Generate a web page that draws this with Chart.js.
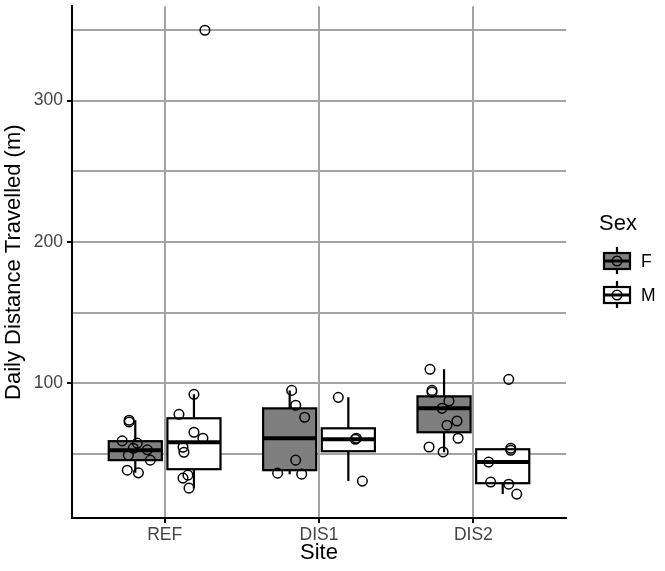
<!DOCTYPE html>
<html>
<head>
<meta charset="utf-8">
<script src="https://cdn.jsdelivr.net/npm/chart.js@4.4.1/dist/chart.umd.min.js"></script>
<style>
  html, body { margin: 0; padding: 0; background: #fff; }
  #wrap { width: 665px; height: 571px; }
</style>
</head>
<body>
<div id="wrap"><canvas id="boxChart"></canvas></div>
<script>
// Sites and axis
const sites = ['REF', 'DIS1', 'DIS2'];
const yLabelTicks = [100, 200, 300];
const yGridTicks = [50, 100, 150, 200, 250, 300, 350];

// Box stats (F)
const fLow = [36.8, 35.9, 51.4];
const fQ1 = [45.8, 38.7, 65.5];
const fMed = [52.8, 61.3, 82.4];
const fQ3 = [59.2, 82.4, 90.9];
const fHigh = [74, 95.1, 110];

// Box stats (M)
const mLow = [26, 31, 21.8];
const mQ1 = [39.4, 52.1, 29.5];
const mMed = [58.5, 60.6, 44.4];
const mQ3 = [75.4, 68.3, 53.5];
const mHigh = [92.3, 90.2, 54.2];

// Individual observations, per site
const fPoints = [
  [74, 72.8, 59.4, 57.8, 54.2, 53.1, 49.3, 45.8, 38.7, 36.8],
  [95.1, 84.6, 76.1, 45.8, 36.6, 35.9],
  [110, 95.1, 93.9, 87.6, 82.4, 73.5, 70.5, 61.3, 55.1, 51.6]
];
const mPoints = [
  [349.7, 92.3, 78.2, 65.5, 61.3, 54.9, 51.4, 35.2, 33.1, 26],
  [90.2, 61.3, 60.6, 31],
  [102.9, 54.2, 52.8, 44.4, 30.3, 28.8, 21.8]
];
// horizontal jitter (category units)
const fJitter = [
  [-0.04, -0.04, -0.085, 0.013, -0.013, 0.078, -0.045, 0.097, -0.052, 0.02],
  [0.013, 0.039, 0.097, 0.039, -0.078, 0.078],
  [-0.091, -0.078, -0.078, 0.032, -0.013, 0.084, 0.019, 0.091, -0.097, -0.006]
];
const mJitter = [
  [0.071, 0, -0.097, 0, 0.058, -0.071, -0.065, -0.039, -0.071, -0.032],
  [-0.065, 0.052, 0.045, 0.091],
  [0.039, 0.052, 0.052, -0.091, -0.078, 0.039, 0.091]
];

const DODGE = 0.19;
const HALF = 0.172;
const FONT = "'Liberation Sans', Arial, sans-serif";

const groups = [
  { name: 'F', fill: '#7f7f7f', offset: -DODGE, low: fLow, q1: fQ1, med: fMed, q3: fQ3, high: fHigh },
  { name: 'M', fill: '#ffffff', offset: DODGE, low: mLow, q1: mQ1, med: mMed, q3: mQ3, high: mHigh }
];

function buildPoints(pts, jit, offset) {
  const out = [];
  pts.forEach((arr, s) => {
    arr.forEach((v, i) => out.push({ x: s + 1 + offset + jit[s][i], y: v }));
  });
  return out;
}

// draws the boxes under the points
const boxPlugin = {
  id: 'boxes',
  beforeDatasetsDraw(chart) {
    const ctx = chart.ctx;
    const xs = chart.scales.x, ys = chart.scales.y;
    ctx.save();
    ctx.strokeStyle = '#000';
    groups.forEach(g => {
      sites.forEach((s, i) => {
        const cx = xs.getPixelForValue(i + 1 + g.offset);
        const x0 = xs.getPixelForValue(i + 1 + g.offset - HALF);
        const x1 = xs.getPixelForValue(i + 1 + g.offset + HALF);
        const yLo = ys.getPixelForValue(g.low[i]);
        const yQ1 = ys.getPixelForValue(g.q1[i]);
        const yMed = ys.getPixelForValue(g.med[i]);
        const yQ3 = ys.getPixelForValue(g.q3[i]);
        const yHi = ys.getPixelForValue(g.high[i]);
        // whiskers
        ctx.lineWidth = 2.2;
        ctx.beginPath();
        ctx.moveTo(cx, yQ1); ctx.lineTo(cx, yLo);
        ctx.moveTo(cx, yQ3); ctx.lineTo(cx, yHi);
        ctx.stroke();
        // box
        ctx.fillStyle = g.fill;
        ctx.fillRect(x0, yQ3, x1 - x0, yQ1 - yQ3);
        ctx.strokeRect(x0, yQ3, x1 - x0, yQ1 - yQ3);
        // median
        ctx.lineWidth = 4;
        ctx.beginPath();
        ctx.moveTo(x0, yMed); ctx.lineTo(x1, yMed);
        ctx.stroke();
      });
    });
    ctx.restore();
  }
};

// ggplot style legend at right
const legendPlugin = {
  id: 'sexLegend',
  afterDraw(chart) {
    const ctx = chart.ctx;
    ctx.save();
    ctx.fillStyle = '#000';
    ctx.font = '22px ' + FONT;
    ctx.textBaseline = 'middle';
    ctx.textAlign = 'left';
    ctx.fillText('Sex', 599, 224);
    groups.forEach((g, k) => {
      const cy = 261 + k * 34;
      const x0 = 604, w = 26, h = 16;
      const cx = x0 + w / 2;
      ctx.strokeStyle = '#000';
      ctx.lineWidth = 2.2;
      ctx.beginPath();
      ctx.moveTo(cx, cy - 14); ctx.lineTo(cx, cy + 13);
      ctx.stroke();
      ctx.fillStyle = g.fill;
      ctx.fillRect(x0, cy - h / 2, w, h);
      ctx.strokeRect(x0, cy - h / 2, w, h);
      ctx.lineWidth = 3;
      ctx.beginPath();
      ctx.moveTo(x0, cy); ctx.lineTo(x0 + w, cy);
      ctx.stroke();
      ctx.lineWidth = 1.5;
      ctx.beginPath();
      ctx.arc(cx, cy, 4.8, 0, Math.PI * 2);
      ctx.stroke();
      ctx.fillStyle = '#000';
      ctx.font = '17.5px ' + FONT;
      ctx.fillText(g.name, 641, cy + 1);
    });
    ctx.restore();
  }
};

const pointStyle = {
  showLine: false,
  pointStyle: 'circle',
  pointRadius: 4.8,
  pointBorderWidth: 1.5,
  pointBackgroundColor: 'rgba(0,0,0,0)',
  pointBorderColor: '#000'
};

new Chart(document.getElementById('boxChart'), {
  type: 'scatter',
  data: {
    datasets: [
      { label: 'F', data: buildPoints(fPoints, fJitter, -DODGE), ...pointStyle },
      { label: 'M', data: buildPoints(mPoints, mJitter, DODGE), ...pointStyle }
    ]
  },
  options: {
    responsive: true,
    maintainAspectRatio: false,
    animation: false,
    layout: { padding: { top: 5, right: 99, left: 0, bottom: 0 } },
    plugins: {
      legend: { display: false },
      tooltip: { enabled: false }
    },
    scales: {
      x: {
        type: 'linear',
        min: 0.4,
        max: 3.6,
        afterBuildTicks: axis => { axis.ticks = [1, 2, 3].map(v => ({ value: v })); },
        afterFit: axis => {
          axis.height = 53;
          axis.paddingLeft = 0;
          axis.paddingRight = 0;
        },
        ticks: {
          callback: v => sites[v - 1],
          color: '#444',
          font: { family: FONT, size: 17.5 },
          padding: 2,
          maxRotation: 0
        },
        grid: {
          color: '#a3a3a3',
          lineWidth: 2,
          tickColor: '#000',
          tickLength: 5,
          tickWidth: 2
        },
        border: { color: '#000', width: 2 },
        title: {
          display: true,
          text: 'Site',
          color: '#000',
          font: { family: FONT, size: 22 },
          padding: { top: 0, bottom: 5 }
        }
      },
      y: {
        min: 4.9,
        max: 366.6,
        afterBuildTicks: axis => { axis.ticks = yGridTicks.map(v => ({ value: v })); },
        afterFit: axis => {
          axis.width = 72;
          axis.paddingTop = 0;
          axis.paddingBottom = 0;
        },
        ticks: {
          callback: v => (yLabelTicks.includes(v) ? String(v) : ''),
          color: '#444',
          font: { family: FONT, size: 17.5 },
          padding: 4
        },
        grid: {
          color: '#a3a3a3',
          lineWidth: 2,
          tickColor: ctx => (ctx.tick && yLabelTicks.includes(ctx.tick.value) ? '#000' : 'rgba(0,0,0,0)'),
          tickLength: 5,
          tickWidth: 2
        },
        border: { color: '#000', width: 2 },
        title: {
          display: true,
          text: 'Daily Distance Travelled (m)',
          color: '#000',
          font: { family: FONT, size: 22 },
          padding: { top: 1, bottom: 0 }
        }
      }
    }
  },
  plugins: [boxPlugin, legendPlugin]
});
</script>
</body>
</html>
